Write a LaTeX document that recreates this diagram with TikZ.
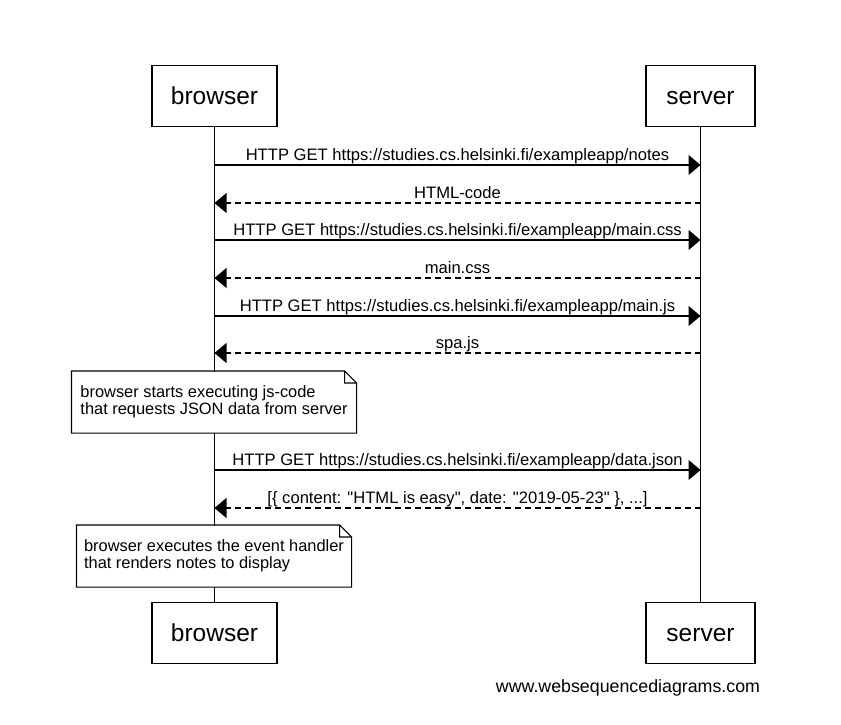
\documentclass[tikz,border=0pt]{standalone}
\usepackage{fontspec}
\setmainfont{Liberation Sans}[Ligatures=NoCommon]
\usetikzlibrary{arrows.meta}

\begin{document}
\begin{tikzpicture}[x=1pt, y=-1pt, line width=1.1pt,
  actor/.style={draw, fill=white, minimum height=61pt, text height=17.6pt, text depth=0pt, font=\fontsize{24.5}{28}\selectfont},
  msg/.style={-{Triangle[length=12pt,width=20pt]}},
  reply/.style={msg, dash pattern=on 6pt off 4pt},
  lbl/.style={anchor=base, yshift=5pt, font=\fontsize{16.6}{19}\selectfont},
  notebox/.style={fill=white, minimum width=#1, minimum height=61pt, align=left, font=\fontsize{16.4}{17.5}\selectfont}]
  \useasboundingbox (0,0) rectangle (841,725);
  % participants, top row and bottom row
  \node[actor, minimum width=125pt] (browserTop) at (214.5,96) {browser};
  \node[actor, minimum width=109pt] (serverTop) at (700.5,96) {server};
  \node[actor, minimum width=125pt] (browserBot) at (214.5,633) {browser};
  \node[actor, minimum width=109pt] (serverBot) at (700.5,633) {server};
  \draw (browserTop) -- (browserBot);
  \draw (serverTop) -- (serverBot);
  % message rows on both lifelines
  \foreach \y [count=\i] in {165,203,240,278,316,353,470,508} {
    \coordinate (b\i) at (214.5,\y);
    \coordinate (s\i) at (700.5,\y);
  }
  \draw[msg] (b1) -- node[lbl] {HTTP GET https://studies.cs.helsinki.fi/exampleapp/notes} (s1);
  \draw[reply] (s2) -- node[lbl] {HTML-code} (b2);
  \draw[msg] (b3) -- node[lbl] {HTTP GET https://studies.cs.helsinki.fi/exampleapp/main.css} (s3);
  \draw[reply] (s4) -- node[lbl] {main.css} (b4);
  \draw[msg] (b5) -- node[lbl] {HTTP GET https://studies.cs.helsinki.fi/exampleapp/main.js} (s5);
  \draw[reply] (s6) -- node[lbl] {spa.js} (b6);
  \draw[msg] (b7) -- node[lbl] {HTTP GET https://studies.cs.helsinki.fi/exampleapp/data.json} (s7);
  \draw[reply] (s8) -- node[lbl] {[\{ content: \textquotedbl HTML is easy\textquotedbl, date: \textquotedbl 2019-05-23\textquotedbl{} \}, ...]} (b8);
  % notes over the browser lifeline, dog-ear top right
  \node[notebox=284pt] (noteStart) at (214,402) {browser starts executing js-code\\that requests JSON data from server};
  \node[notebox=274pt] (noteHandler) at (214,556) {browser executes the event handler\\that renders notes to display};
  \foreach \n in {noteStart,noteHandler}
    \draw (\n.south west) -- (\n.north west) -- ([xshift=-12pt]\n.north east) -- ([yshift=-12pt]\n.north east) -- (\n.south east) -- cycle
      ([xshift=-12pt]\n.north east) |- ([yshift=-12pt]\n.north east);
  \node[anchor=base, font=\fontsize{17.8}{20}\selectfont] (credit) at (628,692) {www.websequencediagrams.com};
\end{tikzpicture}
\end{document}
